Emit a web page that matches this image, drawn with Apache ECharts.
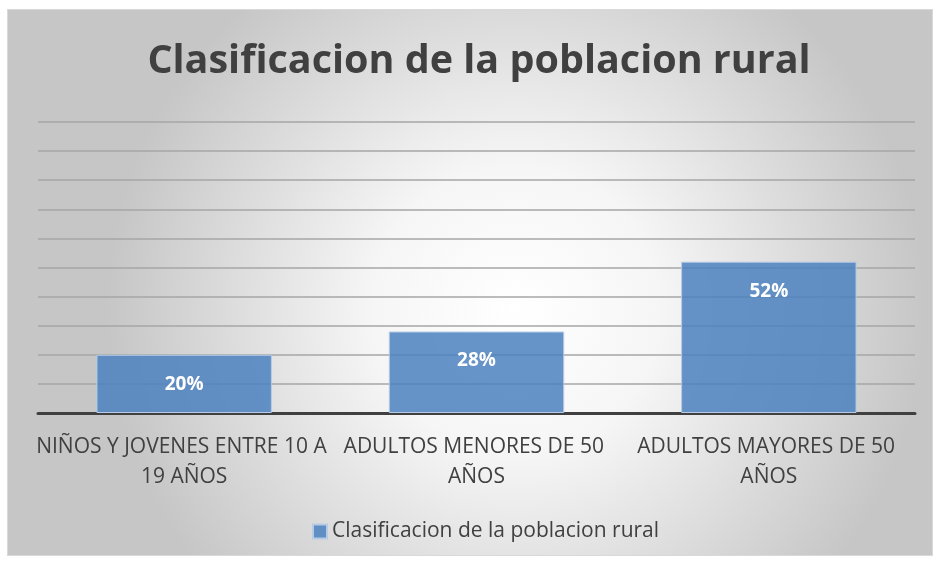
<!DOCTYPE html>
<html><head><meta charset="utf-8">
<script src="https://cdn.jsdelivr.net/npm/echarts@6/dist/echarts.min.js"></script>
<style>
html,body{margin:0;padding:0;background:#fff;}
#c{position:absolute;left:7px;top:9px;width:926px;height:547px;border:1px solid #d9d9d9;box-sizing:border-box;}
</style></head>
<body><div id="c"></div>
<script>
const titleText = 'Clasificacion de la poblacion rural';
const seriesName = 'Clasificacion de la poblacion rural';
const categories = ['NIÑOS Y JOVENES ENTRE 10 A 19 AÑOS', 'ADULTOS MENORES DE 50 AÑOS', 'ADULTOS MAYORES DE 50 AÑOS'];
const values = [20, 28, 52];
const yMin = 0, yMax = 100, yStep = 10;

const FONT = '"Open Sans", sans-serif';
const chart = echarts.init(document.getElementById('c'));
chart.setOption({
  backgroundColor: {type:'radial', x:0.55, y:0.55, r:0.75, colorStops:[{offset:0,color:'#ffffff'},{offset:0.35,color:'#f6f6f6'},{offset:1,color:'#c6c6c6'}]},
  title: {text: titleText, left:466, textAlign:'center', top:27, textStyle:{fontFamily:FONT, fontSize:39.5, fontWeight:'bold', color:'#404040'}},
  legend: {bottom:8, left:299, itemWidth:14, itemHeight:14, itemGap:5, icon:'rect',
    textStyle:{fontFamily:FONT, fontSize:21, color:'#404040'}, data:[seriesName]},
  grid: {left:30, right:17, top:112, bottom:142},
  xAxis: {type:'category', data:categories,
    axisLine:{lineStyle:{color:'#404040', width:3}}, axisTick:{show:false},
    axisLabel:{fontFamily:FONT, fontSize:21, color:'#404040', width:302, overflow:'break', lineHeight:30, margin:19, interval:0}},
  yAxis: {type:'value', min:yMin, max:yMax, interval:yStep, axisLabel:{show:false}, axisLine:{show:false}, axisTick:{show:false},
    splitLine:{lineStyle:{color:'#a6a6a6', width:1.5}}},
  series: [{name:seriesName, type:'bar', data:values, barCategoryGap:'40%',
    itemStyle:{color:'rgba(75,128,190,0.85)', borderColor:'#b5cbe6', borderWidth:1},
    label:{show:true, position:'insideTop', distance:20, formatter:'{c}%', color:'#ffffff', fontFamily:FONT, fontSize:19, fontWeight:'bold'}}]
});
</script></body></html>
